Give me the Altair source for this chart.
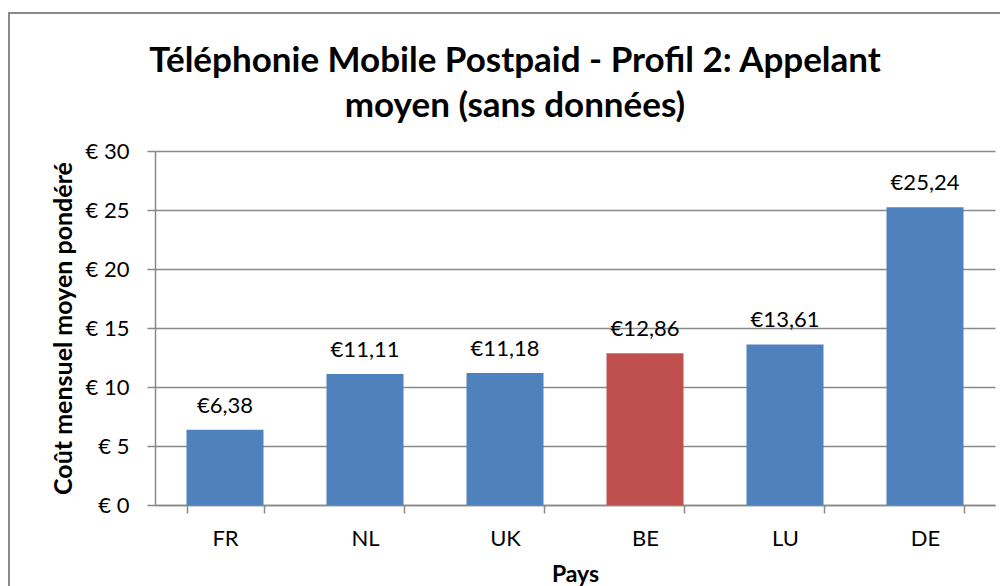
import altair as alt
import pandas as pd

countries = ["FR", "NL", "UK", "BE", "LU", "DE"]
costs = [6.38, 11.11, 11.18, 12.86, 13.61, 25.24]
highlight = ["no", "no", "no", "yes", "no", "no"]
y_ticks = [0, 5, 10, 15, 20, 25, 30]

df = pd.DataFrame({
    "pays": countries,
    "cout": costs,
    "hl": highlight,
    "label": ["€" + f"{v:.2f}".replace(".", ",") for v in costs],
})

FONT = "Lato"
GRID = "#898989"

x_enc = alt.X("pays:N", sort=countries, title="Pays",
              scale=alt.Scale(paddingInner=0.45, paddingOuter=0.225),
              axis=alt.Axis(labelAngle=0, tickBand="extent", tickSize=8,
                            labelPadding=15, titlePadding=14,
                            labelFontSize=22, titleFontSize=23,
                            labelFont=FONT, titleFont=FONT, titleFontWeight="bold",
                            labelColor="#000", titleColor="#000",
                            domainColor=GRID, tickColor=GRID,
                            domainWidth=1.5, tickWidth=1.5))

y_enc = alt.Y("cout:Q", title="Coût mensuel moyen pondéré",
              scale=alt.Scale(domain=[0, 30], nice=False),
              axis=alt.Axis(values=y_ticks, labelExpr="'€ ' + datum.value",
                            tickSize=8, labelPadding=18, titlePadding=9,
                            labelFontSize=22, titleFontSize=25,
                            labelFont=FONT, titleFont=FONT, titleFontWeight="bold",
                            labelColor="#000", titleColor="#000",
                            domainColor=GRID, tickColor=GRID, gridColor=GRID,
                            domainWidth=1.5, tickWidth=1.5, gridWidth=1.5))

bars = alt.Chart(df).mark_bar().encode(
    x=x_enc,
    y=y_enc,
    color=alt.Color("hl:N", scale=alt.Scale(domain=["no", "yes"],
                                             range=["#4F81BD", "#C0504D"]),
                    legend=None),
)

labels = alt.Chart(df).mark_text(baseline="bottom", dy=-12, fontSize=22,
                                 font=FONT, color="#000").encode(
    x=alt.X("pays:N", sort=countries),
    y="cout:Q",
    text="label:N",
)

frame = alt.Chart(pd.DataFrame({"a": [0]})).mark_rect(
    fill=None, stroke="#8a8a8a", strokeWidth=2).encode(
    x=alt.value(-146), x2=alt.value(900),
    y=alt.value(-138), y2=alt.value(700),
)

chart = alt.layer(frame, bars, labels).properties(
    width=840,
    height=354,
    title=alt.TitleParams(
        text=["Téléphonie Mobile Postpaid - Profil 2: Appelant", "moyen (sans données)"],
        font=FONT, fontSize=35, fontWeight="bold", color="#000",
        anchor="middle", dx=-60, offset=-112, lineHeight=45,
    ),
    autosize=alt.AutoSizeParams(type="none"),
    padding={"left": 147, "top": 143, "right": 5, "bottom": 82},
).configure_view(stroke=None).configure_axisX(grid=False)

chart.save("out.html", embed_options={"renderer": "svg", "actions": False})
